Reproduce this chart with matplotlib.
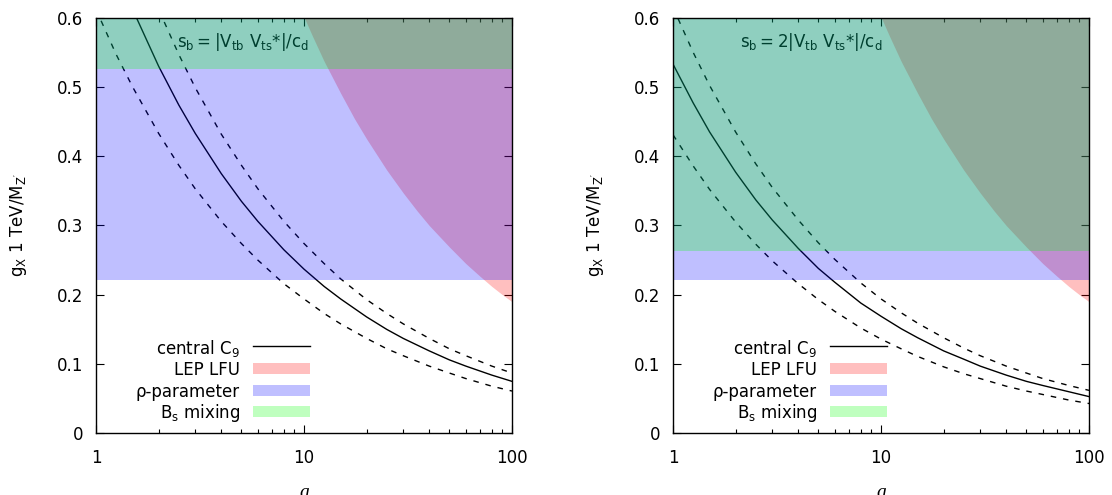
import matplotlib as mpl
mpl.use('Agg')

import matplotlib.pyplot as plt
import matplotlib.patches as mpatches
from matplotlib.ticker import FixedLocator, LogLocator, NullFormatter

plt.rcParams['font.family'] = ['DejaVu Sans']
plt.rcParams['mathtext.default'] = 'regular'
plt.rcParams['mathtext.fontset'] = 'dejavusans'

# values
a_vals = [1, 1.25, 1.5, 2, 2.5, 3, 4, 5, 6, 8, 10, 12.5, 15, 20, 25, 30, 40, 50, 60, 80, 100]

left_central = [0.750, 0.671, 0.612, 0.530, 0.474, 0.433, 0.375, 0.335, 0.306, 0.265, 0.237,
                0.212, 0.194, 0.168, 0.150, 0.137, 0.119, 0.106, 0.097, 0.084, 0.075]
left_upper = [0.865, 0.774, 0.706, 0.612, 0.547, 0.499, 0.432, 0.387, 0.353, 0.306, 0.274,
              0.245, 0.223, 0.193, 0.173, 0.158, 0.137, 0.122, 0.112, 0.097, 0.087]
left_lower = [0.612, 0.547, 0.500, 0.433, 0.387, 0.353, 0.306, 0.274, 0.250, 0.216, 0.194,
              0.173, 0.158, 0.137, 0.122, 0.112, 0.097, 0.087, 0.079, 0.068, 0.061]

right_central = [0.533, 0.477, 0.435, 0.377, 0.337, 0.308, 0.267, 0.238, 0.218, 0.188, 0.169,
                 0.151, 0.138, 0.119, 0.107, 0.097, 0.084, 0.075, 0.069, 0.060, 0.053]
right_upper = [0.615, 0.550, 0.502, 0.435, 0.389, 0.355, 0.308, 0.275, 0.251, 0.217, 0.194,
               0.174, 0.159, 0.138, 0.123, 0.112, 0.097, 0.087, 0.079, 0.069, 0.062]
right_lower = [0.431, 0.386, 0.352, 0.305, 0.273, 0.249, 0.216, 0.193, 0.176, 0.152, 0.136,
               0.122, 0.111, 0.096, 0.086, 0.079, 0.068, 0.061, 0.056, 0.048, 0.043]

# LEP LFU bound (excluded above)
lep_a = [10, 11, 12.5, 15, 17.5, 20, 25, 30, 35, 40, 50, 60, 70, 80, 90, 100]
lep_g = [0.601, 0.573, 0.537, 0.491, 0.454, 0.425, 0.380, 0.347, 0.321, 0.300,
         0.269, 0.245, 0.227, 0.212, 0.200, 0.190]

# rho-parameter and Bs mixing bounds (excluded above)
rho_low = 0.222
bs_low_left = 0.526
bs_low_right = 0.263

titles = [r'$s_b = |V_{tb}\ V_{ts}$*$|/c_d$', r'$s_b = 2|V_{tb}\ V_{ts}$*$|/c_d$']
legend_labels = [r'central $C_9$', 'LEP LFU', 'ρ-parameter', r'$B_s$ mixing']
ytick_vals = [0, 0.1, 0.2, 0.3, 0.4, 0.5, 0.6]
ytick_labels = ['0', '0.1', '0.2', '0.3', '0.4', '0.5', '0.6']
xtick_vals = [1, 10, 100]
xtick_labels = ['1', '10', '100']

red = '#ff0000'
blue = '#0000ff'
green = '#00ff00'
fsize = 12


def draw_panel(ax, central, upper, lower, bs_low, title, title_x):
  ax.set_xscale('log')
  ax.set_xlim(1, 100)
  ax.set_ylim(0, 0.6)
  ax.set_axisbelow(True)

  # curves sit under the transparent fills, like gnuplot draws them
  ax.plot(a_vals, central, color='black', lw=1.0, zorder=0.8)
  ax.plot(a_vals, upper, color='black', lw=1.0, ls=(0, (4, 5)), zorder=0.8)
  ax.plot(a_vals, lower, color='black', lw=1.0, ls=(0, (4, 5)), zorder=0.8)
  ax.text(title_x, 0.930, title, transform=ax.transAxes, fontsize=fsize,
          ha='left', va='baseline', zorder=0.8)

  ax.fill_between(lep_a, lep_g, 0.6, color=red, alpha=0.25, lw=0, zorder=1)
  ax.axhspan(rho_low, 0.6, color=blue, alpha=0.25, lw=0, zorder=1.1)
  ax.axhspan(bs_low, 0.6, color=green, alpha=0.25, lw=0, zorder=1.2)

  # legend, drawn by hand: right aligned text with sample on the right
  rows = [0.205, 0.152, 0.099, 0.049]
  for i, lab in enumerate(legend_labels):
    ax.text(0.346, rows[i], lab, transform=ax.transAxes, fontsize=fsize,
            ha='right', va='center', zorder=3)
  ax.plot([0.377, 0.514], [rows[0] + 0.004, rows[0] + 0.004], color='black', lw=1.0,
          transform=ax.transAxes, zorder=3)
  for i, c in zip([1, 2, 3], [red, blue, green]):
    ax.add_patch(mpatches.Rectangle((0.377, rows[i] - 0.009), 0.137, 0.026,
                 transform=ax.transAxes, facecolor=c, alpha=0.25, lw=0, zorder=3))

  ax.xaxis.set_major_locator(FixedLocator(xtick_vals))
  ax.set_xticklabels(xtick_labels)
  ax.xaxis.set_minor_locator(LogLocator(base=10, subs=range(2, 10)))
  ax.xaxis.set_minor_formatter(NullFormatter())
  ax.set_yticks(ytick_vals)
  ax.set_yticklabels(ytick_labels)

  ax.tick_params(which='both', direction='in', top=True, right=True, width=0.8,
                 labelsize=fsize, color='black')
  ax.tick_params(which='major', length=6)
  ax.tick_params(which='minor', length=3)
  ax.tick_params(axis='x', pad=11.5)
  ax.tick_params(axis='y', pad=9)
  for s in ax.spines.values():
    s.set_linewidth(1.0)
    s.set_zorder(2.5)

  ax.set_ylabel(r"$g_X$ 1 TeV/$M_{Z'}$", fontsize=fsize)
  ax.yaxis.set_label_coords(-0.162, 0.5)
  ax.set_xlabel('a', fontsize=14, family='Liberation Serif', style='italic')
  ax.xaxis.set_label_coords(0.5, -0.122)


fig = plt.figure(figsize=(11.12, 4.95), dpi=100)
ax1 = fig.add_axes([96 / 1112, 61.7 / 495, 416 / 1112, 415.6 / 495])
ax2 = fig.add_axes([673 / 1112, 61.7 / 495, 416 / 1112, 415.6 / 495])

draw_panel(ax1, left_central, left_upper, left_lower, bs_low_left, titles[0], 0.194)
draw_panel(ax2, right_central, right_upper, right_lower, bs_low_right, titles[1], 0.162)

plt.savefig('out.png', dpi=100)
plt.close()
